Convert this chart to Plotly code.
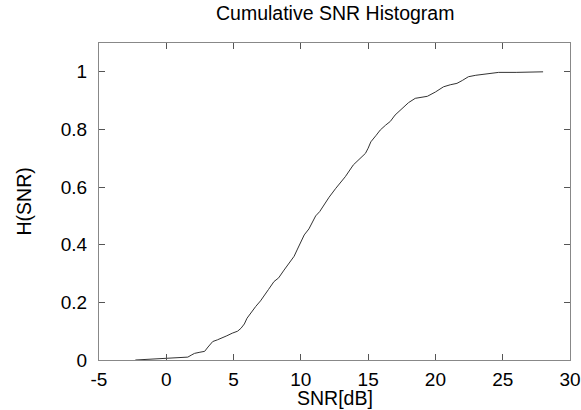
import plotly.graph_objects as go

snr_db = [-2.3, -1.0, 0.0, 1.0, 1.6, 1.9, 2.1, 2.5, 2.85, 3.1, 3.45, 3.8, 4.05, 4.5, 4.9, 5.3, 5.55,
          5.8, 6.0, 6.3, 6.65, 7.0, 7.25, 7.6, 8.0, 8.35, 8.75, 9.1, 9.5, 9.75, 10.0, 10.25, 10.6,
          11.1, 11.4, 11.7, 12.1, 12.6, 13.0, 13.3, 13.9, 14.4, 14.8, 15.0, 15.2, 15.6, 15.9,
          16.3, 16.65, 17.0, 17.3, 17.7, 18.0, 18.5, 19.0, 19.4, 20.0, 20.6, 21.1, 21.6, 22.0,
          22.45, 23.0, 23.8, 24.7, 26.0, 27.5, 28.0]
h_snr = [0.0, 0.003, 0.006, 0.007, 0.010, 0.018, 0.023, 0.027, 0.030, 0.045, 0.064, 0.070, 0.076,
         0.084, 0.093, 0.100, 0.110, 0.125, 0.145, 0.165, 0.186, 0.205, 0.220, 0.245, 0.272,
         0.285, 0.312, 0.335, 0.360, 0.385, 0.410, 0.434, 0.455, 0.500, 0.515, 0.538, 0.565,
         0.596, 0.620, 0.636, 0.677, 0.700, 0.717, 0.735, 0.757, 0.780, 0.798, 0.815, 0.828,
         0.850, 0.862, 0.880, 0.893, 0.908, 0.912, 0.915, 0.930, 0.948, 0.955, 0.960, 0.970,
         0.983, 0.988, 0.993, 0.998, 0.998, 0.999, 1.0]

x_ticks = [-5, 0, 5, 10, 15, 20, 25, 30]
y_ticks = [0, 0.2, 0.4, 0.6, 0.8, 1]
y_tick_text = ["0", "0.2", "0.4", "0.6", "0.8", "1"]

font_family = "Liberation Sans, Arial, Helvetica, sans-serif"

fig = go.Figure()
fig.add_trace(go.Scatter(
    x=snr_db, y=h_snr, mode="lines",
    line=dict(color="#333333", width=1),
    showlegend=False, hoverinfo="skip",
))

axis_common = dict(
    showgrid=False, zeroline=False, automargin=False,
    showline=True, linecolor="#888888", linewidth=1,
    mirror="ticks", ticks="inside", ticklen=6, tickcolor="#555555", tickwidth=1,
    tickfont=dict(family=font_family, size=19, color="#000000"),
)

fig.update_layout(
    width=581, height=410,
    margin=dict(l=99, r=11, t=43, b=50, autoexpand=False),
    paper_bgcolor="white", plot_bgcolor="white",
    xaxis=dict(range=[-5, 30], tickvals=x_ticks, ticktext=[str(v) for v in x_ticks],
               ticklabelstandoff=2, **axis_common),
    yaxis=dict(range=[0, 1.1], tickvals=y_ticks, ticktext=y_tick_text, ticklabelstandoff=7,
               **axis_common),
    annotations=[
        dict(text="Cumulative SNR Histogram", xref="paper", yref="paper", x=0.5, y=1,
             yshift=30, xanchor="center", yanchor="middle", showarrow=False,
             font=dict(family=font_family, size=19.5, color="#000000")),
        dict(text="SNR[dB]", xref="paper", yref="paper", x=0.5, y=0,
             yshift=-38, xanchor="center", yanchor="middle", showarrow=False,
             font=dict(family=font_family, size=19.5, color="#000000")),
        dict(text="H(SNR)", xref="paper", yref="paper", x=0, y=0.5,
             xshift=-76, xanchor="center", yanchor="middle", showarrow=False, textangle=-90,
             font=dict(family=font_family, size=19.5, color="#000000")),
    ],
)

fig.write_html("out.html", config={"displayModeBar": False},
               post_script="document.body.style.margin='0';document.body.style.overflow='hidden';")
